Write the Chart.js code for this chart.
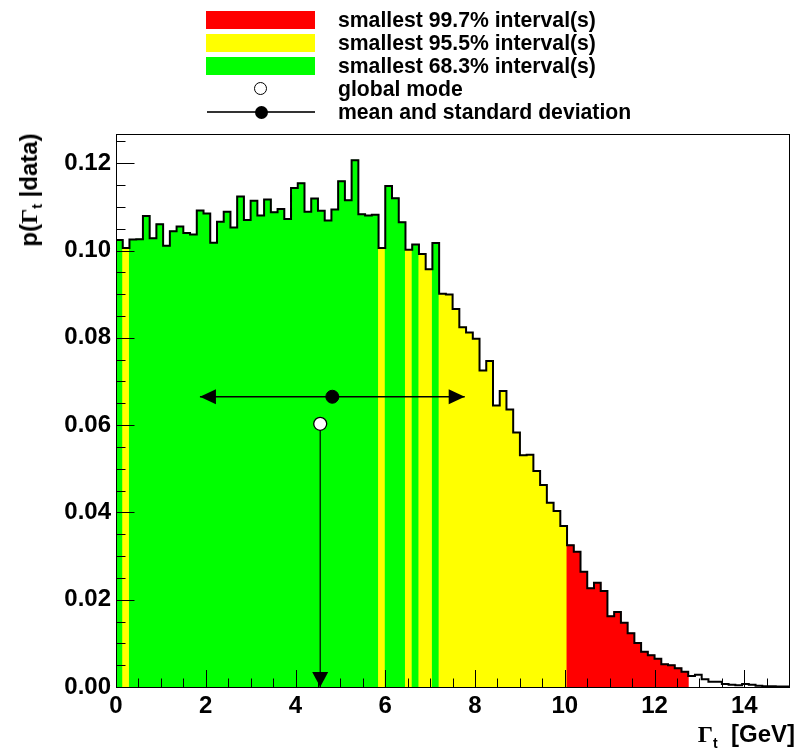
<!DOCTYPE html>
<html>
<head>
<meta charset="utf-8">
<script src="https://cdn.jsdelivr.net/npm/chart.js@4/dist/chart.umd.min.js"></script>
<style>
  html, body { margin:0; padding:0; background:#fff; }
  #wrap { position:relative; width:795px; height:751px; overflow:hidden; background:#fff; }
  #c { position:absolute; left:0; top:0; }
  .txt { position:absolute; font-family:"Liberation Sans", Arial, sans-serif; font-weight:bold; color:#000; white-space:nowrap; }
  .g { font-family:"Liberation Serif", "DejaVu Serif", serif; font-weight:bold; }
  .box { position:absolute; }
</style>
</head>
<body>
<div id="wrap">
  <canvas id="c" width="797" height="751" style="width:797px;height:751px"></canvas>
</div>
<script>
// ---------------- data ----------------
const binLow = 0;
const binWidth = 0.15;
const binValues = [
  0.1024, 0.1006, 0.1025, 0.1026, 0.1079, 0.1028, 0.1060, 0.1011, 0.1044, 0.1055,
  0.1040, 0.1037, 0.1092, 0.1085, 0.1018, 0.1066, 0.1089, 0.1053, 0.1124, 0.1070,
  0.1114, 0.1080, 0.1117, 0.1088, 0.1095, 0.1072, 0.1143, 0.1154, 0.1089, 0.1119,
  0.1091, 0.1069, 0.1094, 0.1159, 0.1115, 0.1207, 0.1083, 0.1080, 0.1082, 0.1006,
  0.1148, 0.1120, 0.1065, 0.1002, 0.1014, 0.0992, 0.0957, 0.1017, 0.0901, 0.0899,
  0.0866, 0.0824, 0.0812, 0.0798, 0.0725, 0.0747, 0.0645, 0.0678, 0.0636, 0.0583,
  0.0531, 0.0532, 0.0495, 0.0463, 0.0422, 0.0403, 0.0369, 0.0325, 0.0310, 0.0264,
  0.0226, 0.0239, 0.0220, 0.0162, 0.0172, 0.0147, 0.0123, 0.0101, 0.0081, 0.0073,
  0.0065, 0.0052, 0.0050, 0.0043, 0.0035, 0.0025, 0.0028, 0.0018, 0.0012, 0.0012,
  0.0007, 0.0005, 0.0004, 0.0007, 0.0005, 0.0003, 0.0002, 0.0002, 0.0001, 0.0001
];
// smallest intervals [from, to] in GeV
const intervals683 = [[0.00, 0.15], [0.30, 5.85], [6.00, 6.45], [6.60, 6.75], [7.05, 7.20]];
const intervals955 = [[0.00, 10.05]];
const intervals997 = [[0.00, 12.75]];
const globalMode = { x: 4.55, y: 0.0603 };
const meanStd = { mean: 4.82, std: 2.95, y: 0.0665 };
const xTickValues = [0, 2, 4, 6, 8, 10, 12, 14];
const yTickValues = [0.00, 0.02, 0.04, 0.06, 0.08, 0.10, 0.12];
const xRange = [0, 15];
const yRange = [0, 0.1267];
const legendLabels = [
  "smallest 99.7% interval(s)",
  "smallest 95.5% interval(s)",
  "smallest 68.3% interval(s)",
  "global mode",
  "mean and standard deviation"
];

// ---------------- styles ----------------
const RED = '#ff0000', YELLOW = '#ffff00', GREEN = '#00ff00';
const FONT = '"Liberation Sans", Arial, sans-serif';

function inAny(c, list) { return list.some(([a, b]) => c > a && c < b); }
const binCenters = binValues.map((v, i) => binLow + (i + 0.5) * binWidth);
const binColors = binCenters.map(c =>
  inAny(c, intervals683) ? GREEN : inAny(c, intervals955) ? YELLOW : inAny(c, intervals997) ? RED : 'rgba(0,0,0,0)');

const outline = binValues.map((v, i) => ({ x: binLow + i * binWidth, y: v }));
outline.push({ x: binLow + binValues.length * binWidth, y: binValues[binValues.length - 1] });

// frame + ROOT-like inside ticks
const frameTicks = {
  id: 'frameTicks',
  afterDatasetsDraw(chart) {
    const { ctx, chartArea: a, scales: { x, y } } = chart;
    ctx.save();
    ctx.strokeStyle = '#000';
    ctx.lineWidth = 1;
    const xMinor = 0.5, yMinor = 0.005;
    for (let k = 0; k * xMinor <= xRange[1] + 1e-9; k++) {
      const v = k * xMinor;
      const px = Math.round(x.getPixelForValue(v)) + 0.5;
      const len = (k % 4 === 0) ? 17 : 8.5;
      ctx.beginPath(); ctx.moveTo(px, a.bottom); ctx.lineTo(px, a.bottom - len); ctx.stroke();
    }
    for (let k = 0; k * yMinor <= yRange[1] + 1e-9; k++) {
      const v = k * yMinor;
      const py = Math.round(y.getPixelForValue(v)) + 0.5;
      const len = (k % 4 === 0) ? 18.5 : 9.5;
      ctx.beginPath(); ctx.moveTo(a.left, py); ctx.lineTo(a.left + len, py); ctx.stroke();
    }
    ctx.strokeRect(Math.round(a.left) + 0.5, Math.round(a.top) + 0.5,
                   Math.round(a.right - a.left), Math.round(a.bottom - a.top));
    // arrow heads
    ctx.fillStyle = '#000';
    const yM = y.getPixelForValue(meanStd.y);
    const xl = x.getPixelForValue(meanStd.mean - meanStd.std);
    const xr = x.getPixelForValue(meanStd.mean + meanStd.std);
    ctx.beginPath(); ctx.moveTo(xl, yM); ctx.lineTo(xl + 16, yM - 7.5); ctx.lineTo(xl + 16, yM + 7.5); ctx.closePath(); ctx.fill();
    ctx.beginPath(); ctx.moveTo(xr, yM); ctx.lineTo(xr - 16, yM - 7.5); ctx.lineTo(xr - 16, yM + 7.5); ctx.closePath(); ctx.fill();
    const xm = x.getPixelForValue(globalMode.x);
    const y0 = y.getPixelForValue(0);
    ctx.beginPath(); ctx.moveTo(xm, y0); ctx.lineTo(xm - 8, y0 - 15); ctx.lineTo(xm + 8, y0 - 15); ctx.closePath(); ctx.fill();
    ctx.restore();
  }
};

new Chart(document.getElementById('c'), {
  type: 'bar',
  data: {
    datasets: [
      {
        type: 'line', label: 'mode circle',
        data: [{ x: globalMode.x, y: globalMode.y }],
        showLine: false, pointRadius: 6.5, pointBackgroundColor: '#fff',
        pointBorderColor: '#000', pointBorderWidth: 1.3, order: 0
      },
      {
        type: 'line', label: 'mean dot',
        data: [{ x: meanStd.mean, y: meanStd.y }],
        showLine: false, pointRadius: 6.5, pointBackgroundColor: '#000',
        pointBorderColor: '#000', pointBorderWidth: 1, order: 1
      },
      {
        type: 'line', label: 'mode line',
        data: [{ x: globalMode.x, y: globalMode.y }, { x: globalMode.x, y: 0 }],
        borderColor: '#000', borderWidth: 1.2, pointRadius: 0, fill: false, order: 2
      },
      {
        type: 'line', label: 'std line',
        data: [{ x: meanStd.mean - meanStd.std, y: meanStd.y }, { x: meanStd.mean + meanStd.std, y: meanStd.y }],
        borderColor: '#000', borderWidth: 1.3, pointRadius: 0, fill: false, order: 3
      },
      {
        type: 'line', label: 'outline',
        data: outline, stepped: 'before',
        borderColor: '#000', borderWidth: 2, pointRadius: 0, fill: false, order: 4
      },
      {
        type: 'bar', label: 'posterior',
        data: binValues.map((v, i) => ({ x: binCenters[i], y: v })),
        backgroundColor: binColors, borderWidth: 0,
        barPercentage: 1.0, categoryPercentage: 1.0, inflateAmount: 0.5, order: 5
      }
    ]
  },
  options: {
    responsive: false,
    animation: false,
    devicePixelRatio: 1,
    layout: { padding: { top: 134, right: 1, left: 0, bottom: 0 } },
    plugins: { legend: { display: false }, tooltip: { enabled: false } },
    scales: {
      x: {
        type: 'linear', min: xRange[0], max: xRange[1], offset: false,
        grid: { display: false, drawTicks: false }, border: { display: false },
        afterBuildTicks: s => { s.ticks = xTickValues.map(v => ({ value: v })); },
        afterFit: s => { s.height = 64; },
        ticks: { color: '#000', font: { family: FONT, size: 24, weight: 'bold' }, padding: 5,
                 maxRotation: 0, autoSkip: false, callback: v => String(v) }
      },
      y: {
        type: 'linear', min: yRange[0], max: yRange[1],
        grid: { display: false, drawTicks: false }, border: { display: false },
        afterBuildTicks: s => { s.ticks = yTickValues.map(v => ({ value: v })); },
        afterFit: s => { s.width = 116; },
        ticks: { color: '#000', font: { family: FONT, size: 24, weight: 'bold' }, padding: 5,
                 autoSkip: false, callback: v => Number(v).toFixed(2) }
      }
    }
  },
  plugins: [frameTicks]
});

// ---------------- legend & axis titles (HTML text) ----------------
const wrap = document.getElementById('wrap');
const legendColors = [RED, YELLOW, GREEN];
const rowCenters = [20, 43, 66, 89, 112];
legendColors.forEach((col, i) => {
  const b = document.createElement('div');
  b.className = 'box';
  b.style.cssText = `left:206px;top:${rowCenters[i] - 9}px;width:109px;height:18px;background:${col}`;
  wrap.appendChild(b);
});
// global mode symbol
const mc = document.createElement('div');
mc.className = 'box';
mc.style.cssText = `left:${261 - 7}px;top:${rowCenters[3] - 7}px;width:11px;height:11px;border:1.5px solid #000;border-radius:50%;background:#fff`;
wrap.appendChild(mc);
// mean symbol
const ml = document.createElement('div');
ml.className = 'box';
ml.style.cssText = `left:207px;top:${rowCenters[4] - 1}px;width:108px;height:1.5px;background:#333`;
wrap.appendChild(ml);
const md = document.createElement('div');
md.className = 'box';
md.style.cssText = `left:${261 - 6.5}px;top:${rowCenters[4] - 6.5}px;width:13px;height:13px;border-radius:50%;background:#000`;
wrap.appendChild(md);
legendLabels.forEach((t, i) => {
  const d = document.createElement('div');
  d.className = 'txt';
  d.style.cssText = `left:338px;top:${rowCenters[i] - 12}px;font-size:21.2px;line-height:24px`;
  d.textContent = t;
  wrap.appendChild(d);
});
// y axis title
const yt = document.createElement('div');
yt.className = 'txt';
yt.style.cssText = 'left:33px;top:190px;font-size:24px;line-height:28px;transform:translate(-50%,-50%) rotate(-90deg);';
yt.innerHTML = 'p(<span class="g">Γ</span><sub style="font-size:14px;vertical-align:-5px">t</sub> |data)';
wrap.appendChild(yt);
// x axis title
const xt = document.createElement('div');
xt.className = 'txt';
xt.style.cssText = 'right:0px;top:720px;font-size:24px;line-height:28px;';
xt.innerHTML = '<span class="g">Γ</span><sub style="font-size:14px;vertical-align:-6px">t</sub>&nbsp; [GeV]';
wrap.appendChild(xt);
</script>
</body>
</html>
